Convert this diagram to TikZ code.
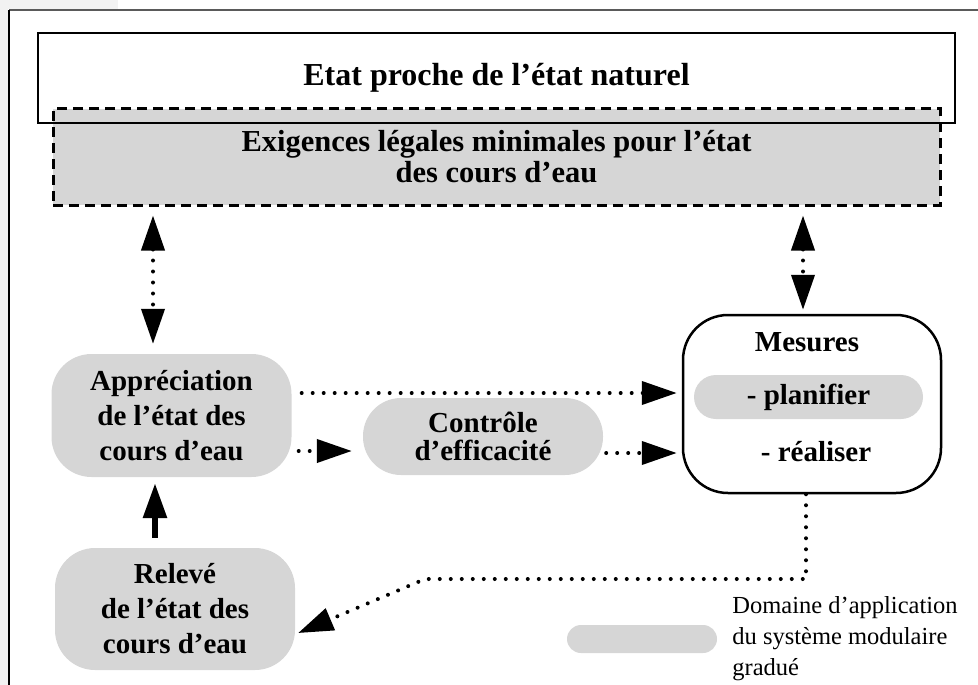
\documentclass[tikz,border=0pt]{standalone}
\usepackage{fontspec}
\setmainfont{Liberation Serif}
\usepackage{xcolor}
\usepackage{tikz}
\usetikzlibrary{arrows.meta}
\usetikzlibrary{calc, positioning}
\definecolor{zonegray}{HTML}{D6D6D6}
\definecolor{stripgray}{HTML}{F2F2F2}
\definecolor{framegray}{HTML}{5A5A5A}
\tikzstyle{zone}=[rectangle, rounded corners=40pt, fill=zonegray, minimum width=240pt, align=center]
\tikzstyle{plain}=[rectangle, draw, line width=2.5pt]
\tikzstyle{dots}=[line width=4pt, line cap=round, dash pattern=on 0pt off 11pt]

\begin{document}
\begin{tikzpicture}[x=1pt, y=-1pt]
\tikzset{>={Triangle[length=35pt, width=23pt]}}

\tikzset{every node/.style={font=\bfseries\fontsize{29pt}{35pt}\selectfont}}


% page and frame
\useasboundingbox (0,0) rectangle (978,685);
\fill[stripgray] (0,0) rectangle (8,685);
\fill[stripgray] (0,0) rectangle (118,9);
\draw[framegray, line width=2pt] (9,10) -- (978,10);
\draw[black, line width=1.5pt] (9,10) -- (9,685);


% top boxes
\node[rectangle, fill=zonegray, draw, line width=3pt, dash pattern=on 10pt off 6pt,
    minimum width=887pt, minimum height=96pt, align=center,
    font=\bfseries\fontsize{30.5pt}{31pt}\selectfont] (legal) at (496.5,157)
    {Exigences légales minimales pour l'état\\des cours d'eau};
\node[plain, minimum width=917pt, minimum height=90pt, font=\bfseries\fontsize{32pt}{35pt}\selectfont] (natural) at (496.5,78) {Etat proche de l'état naturel};


% zones
\node[zone, minimum height=123pt] (appr) at (171.5,415.5) {Appréciation\\de l'état des\\cours d'eau};
\node[zone, minimum height=122pt] (releve) at (175,609) {Relevé\\de l'état des\\cours d'eau};
\node[zone, rounded corners=38pt, minimum height=77pt, font=\bfseries\fontsize{29pt}{28pt}\selectfont] (controle) at (483,436.5) {Contrôle\\d'efficacité};

% Mesures
\node[plain, rounded corners=45pt, minimum width=258pt, minimum height=178pt] (mesures) at (812,404) {};
\node (mesurestitle) at (807,342) {Mesures};
\node[zone, rounded corners=22pt, minimum width=229pt, minimum height=44pt] (planifier) at (808.5,397) {- planifier};
\node (realiser) at (816,452) {- réaliser};


% arrows
\coordinate (ua) at ([xshift=-18.5pt]appr.north);
\coordinate (um) at ([xshift=-9pt]mesures.north);
\draw[dots, <->, shorten <=9pt, shorten >=10pt] (ua |- legal.south) -- (ua);
\draw[dots, <->, shorten <=9pt, shorten >=4pt] (um |- legal.south) -- (um);

\coordinate (a1) at ([yshift=22.5pt]appr.east);
\coordinate (a2) at ([yshift=-35.5pt]appr.east);
\coordinate (a3) at ([yshift=-16.5pt]controle.east);
\draw[dots, ->, shorten <=10pt, shorten >=5pt] (a1) -- (a1 -| mesures.west);
\draw[dots, ->, shorten <=7pt, shorten >=11pt] (a2) -- (a2 -| controle.west);
\draw[dots, ->, shorten <=3pt, shorten >=5pt] (a3) -- (a3 -| mesures.west);

\coordinate (ur) at ([xshift=-20pt]releve.north);
\draw[->, line width=6pt, shorten <=10pt, shorten >=6pt] (ur) -- (ur |- appr.south);

\coordinate (dm) at ([xshift=-6pt]mesures.south);
\coordinate (bend) at (425,579);
\draw[dots, ->] (dm) -- (dm |- bend) -- (bend) -- ([xshift=3pt,yshift=-24pt]releve.east);


% legend
\node[zone, rounded corners=14pt, minimum width=150pt, minimum height=28pt] (legend) at (642,639) {};
\node[anchor=west, inner sep=0pt, align=left, right=15pt of legend,
    font=\fontsize{24.5pt}{31pt}\selectfont] (legendtext)
    {Domaine d'application\\du système modulaire\\gradué};

\end{tikzpicture}
\end{document}
